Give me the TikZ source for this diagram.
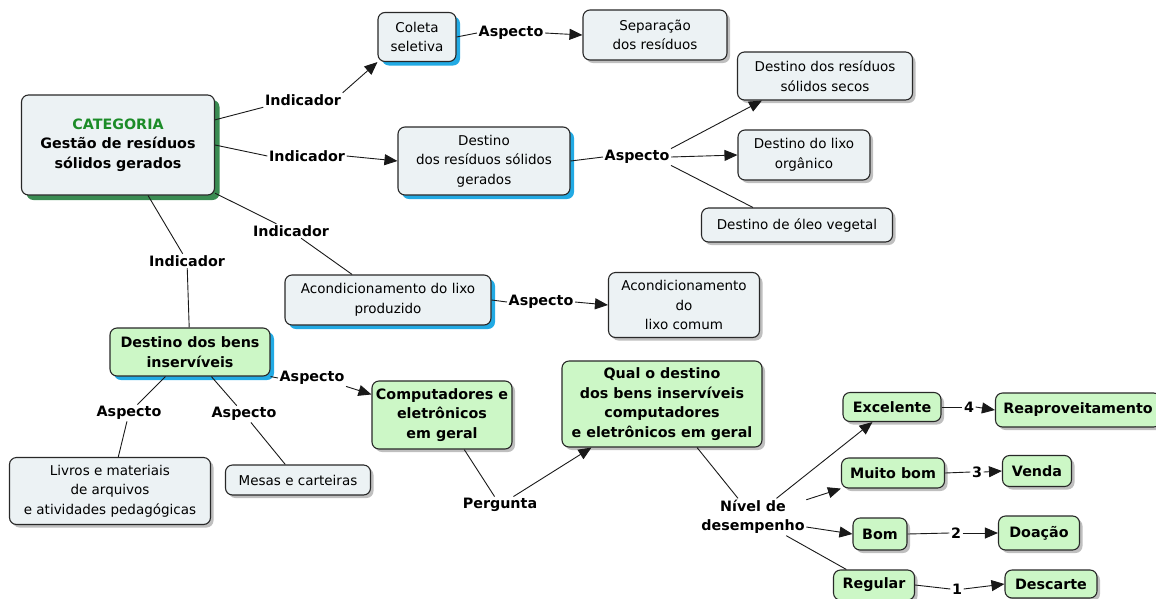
\documentclass[tikz,border=0pt]{standalone}
\usepackage{fontspec}
\setmainfont{DejaVu Sans}
\usetikzlibrary{arrows.meta, shadows}

\definecolor{conceptfill}{RGB}{236,242,244}
\definecolor{greenfill}{RGB}{204,247,198}
\definecolor{catgreen}{RGB}{28,140,40}
\definecolor{catshade}{RGB}{58,140,82}
\definecolor{cyanshade}{RGB}{34,170,228}
\definecolor{nodeline}{RGB}{40,40,40}
\newcommand{\mapfont}{\fontsize{13.5}{19.5}\selectfont}
\newcommand{\mapbold}{\fontsize{14.3}{19.5}\selectfont\bfseries}

\tikzset{
  concept/.style={draw=nodeline, line width=1.1pt, rounded corners=7pt, fill=conceptfill, align=center, inner sep=3pt},
  greenconcept/.style={concept, fill=greenfill, font=\mapbold},
  grayshadow/.style={drop shadow={shadow xshift=3pt, shadow yshift=-3pt, fill=black, opacity=.25}},
  cyanshadow/.style={drop shadow={shadow xshift=4pt, shadow yshift=-4pt, fill=cyanshade, opacity=1}},
  greenshadow/.style={drop shadow={shadow xshift=5pt, shadow yshift=-5pt, fill=catshade, opacity=1}},
  linkword/.style={font=\mapbold, inner sep=1.5pt, align=center},
  conn/.style={line width=0.9pt, black!90},
  arrowconn/.style={conn, -{Triangle[length=13pt, width=11pt]}}
}

\begin{document}
\begin{tikzpicture}[x=1pt, y=-1pt, every node/.style={font=\mapfont}]
\useasboundingbox (0,0) rectangle (1156,598);

\node[concept, greenshadow, minimum width=193pt, minimum height=100pt, font=\mapbold] (cat) at (118,145) {\textcolor{catgreen}{CATEGORIA}\\Gestão de resíduos\\sólidos gerados};

\node[concept, cyanshadow, minimum width=78pt, minimum height=49pt] (coleta) at (417,37) {Coleta\\seletiva};
\node[concept, grayshadow, minimum width=144pt, minimum height=50pt] (separ) at (655,35) {Separação\\dos resíduos};
\node[concept, cyanshadow, minimum width=172pt, minimum height=68pt] (destsolidos) at (484,161) {Destino\\dos resíduos sólidos\\gerados};
\node[concept, grayshadow, minimum width=175pt, minimum height=48pt] (secos) at (825,76) {Destino dos resíduos\\sólidos secos};
\node[concept, grayshadow, minimum width=132pt, minimum height=50pt] (organico) at (804,155) {Destino do lixo\\orgânico};
\node[concept, grayshadow, minimum width=191pt, minimum height=34pt] (oleo) at (797,225) {Destino de óleo vegetal};
\node[concept, cyanshadow, minimum width=206pt, minimum height=50pt] (acond) at (388,300) {Acondicionamento do lixo\\produzido};
\node[concept, grayshadow, minimum width=151pt, minimum height=65pt] (acondcomum) at (684,305) {Acondicionamento\\do\\lixo comum};

\node[greenconcept, cyanshadow, minimum width=160pt, minimum height=48pt] (bens) at (190,352) {Destino dos bens\\inservíveis};
\node[concept, grayshadow, minimum width=201pt, minimum height=67pt] (livros) at (110,491) {Livros e materiais\\de arquivos\\e atividades pedagógicas};
\node[concept, grayshadow, minimum width=145pt, minimum height=30pt] (mesas) at (298,480) {Mesas e carteiras};
\node[greenconcept, grayshadow, minimum width=140pt, minimum height=68pt] (comp) at (442,415) {Computadores e\\eletrônicos\\em geral};
\node[greenconcept, grayshadow, minimum width=200pt, minimum height=86pt] (qual) at (662,404) {Qual o destino\\dos bens inservíveis\\computadores\\e eletrônicos em geral};

\node[greenconcept, grayshadow, minimum width=98pt, minimum height=29pt] (excel) at (892,407) {Excelente};
\node[greenconcept, grayshadow, minimum width=165pt, minimum height=34pt] (reap) at (1078,410) {Reaproveitamento};
\node[greenconcept, grayshadow, minimum width=103pt, minimum height=30pt] (muito) at (893,473) {Muito bom};
\node[greenconcept, grayshadow, minimum width=69pt, minimum height=31pt] (venda) at (1037,471) {Venda};
\node[greenconcept, grayshadow, minimum width=54pt, minimum height=32pt] (bom) at (880,534) {Bom};
\node[greenconcept, grayshadow, minimum width=81pt, minimum height=34pt] (doacao) at (1039,533) {Doação};
\node[greenconcept, grayshadow, minimum width=81pt, minimum height=30pt] (regular) at (874,585) {Regular};
\node[greenconcept, grayshadow, minimum width=92pt, minimum height=28pt] (descarte) at (1051,584) {Descarte};

\node[linkword] (ind1) at (303,100) {Indicador};
\node[linkword] (ind2) at (307,156) {Indicador};
\node[linkword] (ind3) at (291,231) {Indicador};
\node[linkword] (ind4) at (187,261) {Indicador};
\node[linkword] (asp1) at (511,33) {Aspecto};
\node[linkword] (asp2) at (637,157) {Aspecto};
\node[linkword] (asp3) at (541,302) {Aspecto};
\node[linkword] (asp4) at (312,378) {Aspecto};
\node[linkword] (asp5) at (129,413) {Aspecto};
\node[linkword] (asp6) at (244,414) {Aspecto};
\node[linkword] (perg) at (500,505) {Pergunta};
\node[linkword] (nivel) at (753,517) {Nível de\\desempenho};
\node[linkword] (n4) at (969,407) {4};
\node[linkword] (n3) at (977,472) {3};
\node[linkword] (n2) at (956,533) {2};
\node[linkword] (n1) at (957,589) {1};

\draw[conn] (cat) -- (ind1.south west);
\draw[arrowconn] (ind1.north east) -- (coleta.south west);
\draw[conn] (cat.east) -- (ind2.west);
\draw[arrowconn] (ind2.east) -- (destsolidos.west);
\draw[conn] (cat) -- (ind3);
\draw[conn] (ind3) -- (acond);
\draw[conn] (cat) -- (ind4);
\draw[conn] (ind4) -- (bens);

\draw[conn] (coleta.east) -- (asp1.west);
\draw[arrowconn] (asp1.east) -- (separ.west);
\draw[conn] (destsolidos.east) -- (asp2.west);
\draw[arrowconn] (asp2.north east) -- ([xshift=25pt]secos.south west);
\draw[arrowconn] (asp2.east) -- (organico.west);
\draw[conn] (asp2.south east) -- ([xshift=52pt]oleo.north west);
\draw[conn] (acond.east) -- (asp3.west);
\draw[arrowconn] (asp3.east) -- (acondcomum.west);

\draw[conn] (bens.south east) -- (asp4.west);
\draw[arrowconn] (asp4.south east) -- ([yshift=-14pt]comp.north west);
\draw[conn] (bens) -- (asp5);
\draw[conn] (asp5) -- (livros);
\draw[conn] (bens) -- (asp6);
\draw[conn] (asp6) -- (mesas);
\draw[conn] (comp) -- (perg);
\draw[arrowconn] (perg) -- ([xshift=30pt]qual.south west);
\draw[conn] (qual) -- (nivel);

\draw[arrowconn] (nivel) -- ([xshift=30pt]excel.south west);
\draw[arrowconn] (nivel) -- (muito.south west);
\draw[arrowconn] ([yshift=-10pt]nivel.east) -- (bom.west);
\draw[conn] (nivel) -- (regular);

\draw[conn] (excel.east) -- (n4.west);
\draw[arrowconn] (n4.east) -- (reap.west);
\draw[conn] (muito.east) -- (n3.west);
\draw[arrowconn] (n3.east) -- (venda.west);
\draw[conn] (bom.east) -- (n2.west);
\draw[arrowconn] (n2.east) -- (doacao.west);
\draw[conn] (regular.east) -- (n1.west);
\draw[arrowconn] (n1.east) -- (descarte.west);
\end{tikzpicture}
\end{document}
